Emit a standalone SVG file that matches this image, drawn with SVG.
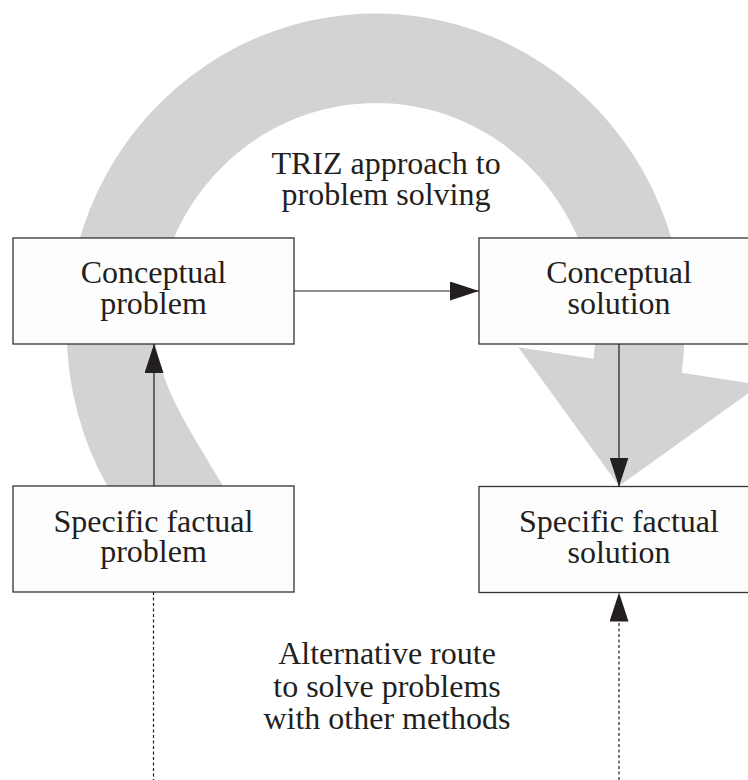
<svg xmlns="http://www.w3.org/2000/svg" width="748" height="780" viewBox="0 0 748 780">
  <style>
    .box { fill: #fdfdfd; stroke: #333333; stroke-width: 1.3; }
    .lbl { font-family: "Liberation Serif", "Times New Roman", serif; font-size: 32px; fill: #231f20; text-anchor: middle; }
    .conn { stroke: #231f20; stroke-width: 1.2; fill: none; }
    .dot { stroke-dasharray: 3 2.5; }
    .band { fill: #d1d3d4; }
  </style>
  <defs>
    <marker id="ah" markerUnits="userSpaceOnUse" markerWidth="29" markerHeight="19" refX="29" refY="9.5" orient="auto" viewBox="0 0 29 19">
      <path d="M0,0 L29,9.5 L0,19 Z" fill="#231f20"/>
    </marker>
  </defs>
  <rect width="748" height="780" fill="#ffffff"/>

  <g id="triz-band">
    <path class="band" d="M115.5,500 A309 316 0 1 1 681.7,372.7 L760,385 L619,486 L518.3,347.3 L593.3,358.7 L597,330 C597,204.6 498.1,103 376,103 C253.9,103 155,204.6 155,330 C155,380 190,430 223,486 L232,500 Z"/>
  </g>

  <g id="label-triz">
    <text class="lbl" x="386" y="173.5">TRIZ approach to</text>
    <text class="lbl" x="386" y="204.5">problem solving</text>
  </g>

  <g id="node-conceptual-problem">
    <rect class="box" x="13" y="238" width="281" height="106"/>
    <text class="lbl" x="153.5" y="283.3">Conceptual</text>
    <text class="lbl" x="153.5" y="314">problem</text>
  </g>

  <g id="node-conceptual-solution">
    <rect class="box" x="479" y="238" width="281" height="106"/>
    <text class="lbl" x="619" y="283.3">Conceptual</text>
    <text class="lbl" x="619" y="314">solution</text>
  </g>

  <g id="node-specific-problem">
    <rect class="box" x="13" y="486" width="281" height="106"/>
    <text class="lbl" x="153.5" y="531.5">Specific factual</text>
    <text class="lbl" x="153.5" y="562">problem</text>
  </g>

  <g id="node-specific-solution">
    <rect class="box" x="479" y="486.5" width="281" height="106"/>
    <text class="lbl" x="619" y="531.8">Specific factual</text>
    <text class="lbl" x="619" y="562.5">solution</text>
  </g>

  <g id="label-alternative">
    <text class="lbl" x="387" y="664.3">Alternative route</text>
    <text class="lbl" x="387" y="696.8">to solve problems</text>
    <text class="lbl" x="387" y="729.3">with other methods</text>
  </g>

  <g id="connectors">
    <path class="conn" d="M294,291 L479,291" marker-end="url(#ah)"/>
    <path class="conn" d="M154,486 L154,344" marker-end="url(#ah)"/>
    <path class="conn" d="M619,344 L619,486.5" marker-end="url(#ah)"/>
    <path class="conn dot" d="M153.5,592 L153.5,780"/>
    <path class="conn dot" d="M619,780 L619,592.5" marker-end="url(#ah)"/>
  </g>
</svg>
